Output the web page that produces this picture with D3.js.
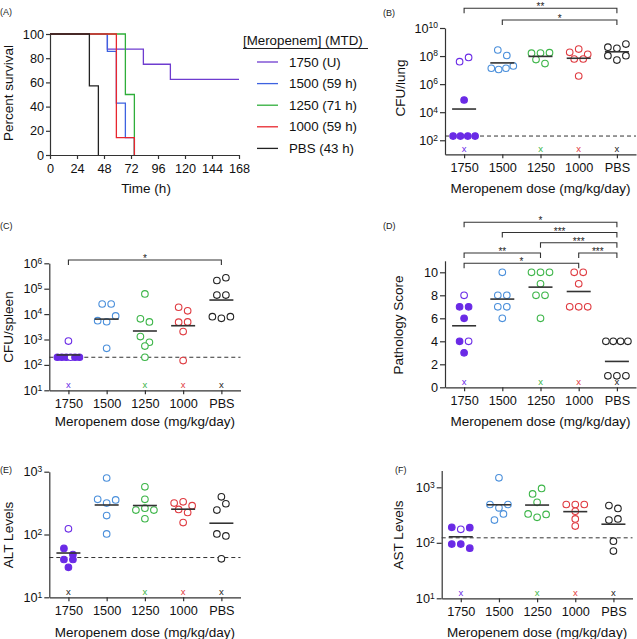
<!DOCTYPE html>
<html>
<head>
<meta charset="utf-8">
<script src="https://cdn.jsdelivr.net/npm/d3@7/dist/d3.min.js"></script>
<style>
body { margin: 0; background: #fff; }
text { font-family: "Liberation Sans", Arial, sans-serif; }
</style>
</head>
<body>
<script>
// Meropenem dose groups, six panels (A-F)
var W = 637, H = 639;
var doses = ["1750", "1500", "1250", "1000", "PBS"];

// (A) survival, step curves
var survTime = [[0, 51, 83, 107, 168], [0, 51, 59, 67, 75], [0, 67, 75], [0, 59, 75], [0, 35, 43]];
var survPct = [[100, 87.5, 75, 62.5, 62.5], [100, 85.7, 42.9, 14.3, 0], [100, 50, 0], [100, 14.3, 0], [100, 57.1, 0]];
var legendTitle = "[Meropenem] (MTD)";
var legendLabels = ["1750 (U)", "1500 (59 h)", "1250 (71 h)", "1000 (59 h)", "PBS (43 h)"];
var timeTicks = [0, 24, 48, 72, 96, 120, 144, 168];
var pctTicks = [0, 20, 40, 60, 80, 100];

// (B) CFU/lung
var lungCFU = [
  [4e7, 8e7, 7.4e4, 200, 200, 200, 200],
  [2.7e8, 1.1e8, 1.35e7, 1.1e7, 1.35e7, 2e7],
  [1.6e8, 1.65e8, 1.75e8, 5.6e7, 2.9e7],
  [1.86e8, 3.16e8, 1.35e8, 6.2e7, 6.2e7, 3.8e6],
  [4.3e8, 3.6e8, 7.2e8, 1.07e8, 5.2e7, 1.07e8]
];
var lungSurv1750 = [0, 0, 1, 1, 1, 1, 1];
var lungDead = [1, 0, 1, 1, 1];
var lungSig = [["1500", "PBS", "*"], ["1750", "PBS", "**"]];

// (C) CFU/spleen
var spleenCFU = [
  [870, 200, 200, 200, 200, 200, 200],
  [2.5e4, 2.5e4, 5.5e3, 5e3, 8.5e3, 450],
  [6.2e4, 6.5e3, 4.9e3, 1.3e3, 780, 550, 200],
  [1.86e4, 1.35e4, 4.8e3, 4.9e3, 2.05e3, 148],
  [2.1e5, 2.7e5, 5.6e4, 5.6e4, 7.9e3, 6.8e3, 7.9e3]
];
var spleenSurv1750 = [0, 1, 1, 1, 0, 1, 1];
var spleenDead = [1, 0, 1, 1, 1];
var spleenSig = [["1750", "PBS", "*"]];

// (D) pathology score
var pathScore = [
  [8, 7, 7, 6, 4, 4, 3],
  [10, 8, 8, 7, 7, 6],
  [10, 10, 10, 9, 8, 8, 6],
  [10, 10, 9, 7, 7, 7],
  [4, 4, 4, 4, 1, 1, 1]
];
var pathMean = [5.35, 7.67, 8.71, 8.33, 2.25];
var pathSurv1750 = [0, 1, 1, 1, 1, 0, 1];
var pathDead = [1, 0, 1, 1, 1];
var pathSig = [["1750", "1000", "*"], ["1750", "1250", "**"], ["1000", "PBS", "***"],
               ["1250", "PBS", "***"], ["1500", "PBS", "***"], ["1750", "PBS", "*"]];

// (E) ALT
var altLevel = [
  [123, 60, 48, 40, 40, 30],
  [794, 363, 316, 355, 200, 102],
  [575, 363, 245, 263, 245, 178],
  [316, 331, 288, 251, 224, 155],
  [398, 245, 309, 102, 95, 41]
];
var altSurv1750 = [0, 1, 1, 1, 1, 1];
var altDead = [1, 0, 1, 1, 1];

// (F) AST
var astLevel = [
  [190, 175, 187, 95, 95, 80],
  [1480, 490, 427, 490, 257, 331],
  [760, 955, 537, 331, 288, 324],
  [490, 490, 490, 370, 269, 200],
  [468, 417, 257, 269, 107, 71]
];
var astSurv1750 = [1, 0, 1, 1, 1, 1];
var astDead = [1, 0, 1, 1, 1];

var doseColor = ["#6a2ae6", "#4a8fdb", "#3cb548", "#df3a40", "#222222"];
var lineColor = ["#6e3ccf", "#3d62e0", "#2fae3a", "#e8262e", "#222222"];
var ink = "#333";

var svg = d3.select("body").append("svg").attr("width", W).attr("height", H);

function styleAxis(g) {
  g.attr("font-family", null).attr("font-size", null);
  g.selectAll("path, line").attr("stroke", ink).attr("stroke-width", 1.2);
  g.selectAll("text").attr("fill", "#111").style("font-size", "12.7px");
}

function label(x, y, s) {
  svg.append("text").attr("x", x).attr("y", y).attr("font-size", 9).attr("fill", "#222").text(s);
}

function yTitle(x, y, s) {
  svg.append("text").attr("transform", "translate(" + x + "," + y + ") rotate(-90)")
    .attr("text-anchor", "middle").attr("dy", "0.35em").attr("font-size", 13.5).attr("fill", "#111").text(s);
}

function xTitle(x, y, s) {
  svg.append("text").attr("x", x).attr("y", y).attr("dy", "0.35em")
    .attr("text-anchor", "middle").attr("font-size", 13.5).attr("fill", "#111").text(s);
}

// ---------- (A) ----------
var ax = d3.scaleLinear().domain([0, 168]).range([50, 239]);
var ay = d3.scaleLinear().domain([0, 100]).range([155, 34]);

svg.append("g").attr("transform", "translate(0,155)")
  .call(d3.axisBottom(ax).tickValues(timeTicks).tickSize(4).tickSizeOuter(0).tickPadding(5))
  .call(styleAxis);
svg.append("g").attr("transform", "translate(50,0)")
  .call(d3.axisLeft(ay).tickValues(pctTicks).tickSize(4).tickSizeOuter(0).tickPadding(2))
  .call(styleAxis);

var step = d3.line().x(function(d) { return ax(d[0]); }).y(function(d) { return ay(d[1]); })
  .curve(d3.curveStepAfter);

survTime.forEach(function(ts, i) {
  var pts = ts.map(function(t, k) { return [t, survPct[i][k]]; });
  svg.append("path").attr("d", step(pts)).attr("fill", "none")
    .attr("stroke", lineColor[i]).attr("stroke-width", 1.3);
});

label(0, 15, "(A)");
yTitle(8, 93, "Percent survival");
xTitle(146, 188, "Time (h)");

// legend
svg.append("text").attr("x", 243).attr("y", 40).attr("dy", "0.35em").attr("font-size", 13.3)
  .attr("fill", "#111").text(legendTitle);
svg.append("line").attr("x1", 243).attr("x2", 368).attr("y1", 48.5).attr("y2", 48.5)
  .attr("stroke", "#222").attr("stroke-width", 1.2);
var leg = svg.selectAll(".leg").data(legendLabels).enter().append("g")
  .attr("transform", function(d, i) { return "translate(0," + (62 + i * 21.6) + ")"; });
leg.append("line").attr("x1", 257).attr("x2", 278)
  .attr("stroke", function(d, i) { return lineColor[i]; }).attr("stroke-width", 1.3);
leg.append("text").attr("x", 289).attr("dy", "0.35em").attr("font-size", 13.3).attr("fill", "#111")
  .text(function(d) { return d; });

// ---------- dot panels ----------
function layoutDots(values, y) {
  var pts = values.map(function(v, i) { return { v: v, i: i, y: y(v) }; });
  var sorted = pts.slice().sort(function(a, b) { return a.y - b.y || a.i - b.i; });
  var rows = [], cur = null;
  sorted.forEach(function(p) {
    if (cur && p.y - cur.y0 < 6.6) cur.pts.push(p);
    else { cur = { y0: p.y, pts: [p] }; rows.push(cur); }
  });
  rows.forEach(function(r) {
    r.pts.sort(function(a, b) { return a.i - b.i; });
    var n = r.pts.length, s = n > 1 ? Math.min(9, 22 / (n - 1)) : 0;
    r.pts.forEach(function(p, k) { p.dx = (k - (n - 1) / 2) * s; });
  });
  return pts;
}

function sigLevels(sig) {
  var used = [];
  return sig.map(function(s) {
    var a = doses.indexOf(s[0]), b = doses.indexOf(s[1]), lv = 0;
    while (used.some(function(u) { return u.lv === lv && a <= u.b && b >= u.a; })) lv++;
    used.push({ a: a, b: b, lv: lv });
    return lv;
  });
}

function dotPanel(p) {
  var g = svg.append("g");
  var x = d3.scalePoint().domain(doses).range([p.x0, p.x1]).padding(0.5);
  var y = p.y;
  var yb = y.range()[0];

  g.append("g").attr("transform", "translate(0," + yb + ")")
    .call(d3.axisBottom(x).tickSize(4).tickSizeOuter(0).tickPadding(5))
    .call(styleAxis);
  var ya = g.append("g").attr("transform", "translate(" + p.x0 + ",0)")
    .call(d3.axisLeft(y).tickValues(p.ticks).tickSize(5).tickSizeOuter(0).tickPadding(2)
      .tickFormat(p.log ? function() { return ""; } : d3.format("d")))
    .call(styleAxis);
  if (p.log) {
    ya.selectAll(".tick text").each(function(d) {
      var t = d3.select(this);
      t.append("tspan").text("10");
      t.append("tspan").attr("dy", "-0.5em").style("font-size", "8.5px").text(Math.round(Math.log10(d)));
    });
  }

  if (p.lod) {
    g.append("line").attr("x1", p.x0).attr("x2", p.x1).attr("y1", y(p.lod)).attr("y2", y(p.lod))
      .attr("stroke", ink).attr("stroke-width", 1).attr("stroke-dasharray", "4,3");
  }

  p.data.forEach(function(vals, gi) {
    var c = doseColor[gi], cx = x(doses[gi]);
    var pts = layoutDots(vals, y);
    g.selectAll(null).data(pts).enter().append("circle")
      .attr("cx", function(d) { return cx + d.dx; })
      .attr("cy", function(d) { return d.y; })
      .attr("r", 3.3)
      .attr("fill", function(d) { return gi === 0 && p.surv[d.i] ? c : "#fff"; })
      .attr("stroke", c).attr("stroke-width", 1.1);
    var m = p.means ? p.means[gi]
      : Math.pow(10, d3.mean(vals, function(v) { return Math.log10(v); }));
    g.append("line").attr("x1", cx - 12).attr("x2", cx + 12).attr("y1", y(m)).attr("y2", y(m))
      .attr("stroke", ink).attr("stroke-width", 1.6);
    if (p.dead[gi]) {
      g.append("text").attr("x", cx).attr("y", yb - 2).attr("text-anchor", "middle")
        .attr("font-size", 9.5).attr("fill", (p.deadInk && p.deadInk[gi]) || c).text("x");
    }
  });

  if (p.sig) {
    var lv = sigLevels(p.sig);
    p.sig.forEach(function(s, k) {
      var yy = p.sigY - lv[k] * p.sigStep, x1 = x(s[0]), x2 = x(s[1]);
      g.append("path").attr("d", "M" + x1 + "," + (yy + 5) + "V" + yy + "H" + x2 + "V" + (yy + 5))
        .attr("fill", "none").attr("stroke", ink).attr("stroke-width", 1.1);
      g.append("text").attr("x", (x1 + x2) / 2).attr("y", yy + 2).attr("text-anchor", "middle")
        .attr("font-size", 10).attr("fill", "#222").text(s[2]);
    });
  }

  label(p.lx, p.ly, p.label);
  yTitle(p.tx, p.ty, p.title);
  xTitle((p.x0 + p.x1) / 2, p.xty, "Meropenem dose (mg/kg/day)");
}

dotPanel({
  label: "(B)", lx: 383, ly: 16, x0: 445, x1: 636,
  y: d3.scaleLog().domain([10, 1e10]).range([154.3, 28]), log: true,
  ticks: [1e2, 1e4, 1e6, 1e8, 1e10],
  data: lungCFU, surv: lungSurv1750, dead: lungDead, lod: 200,
  sig: lungSig, sigY: 20, sigStep: 11.7,
  title: "CFU/lung", tx: 400, ty: 88, xty: 188
});

dotPanel({
  label: "(C)", lx: 0, ly: 229, x0: 49.3, x1: 240.5,
  y: d3.scaleLog().domain([10, 1e6]).range([390.3, 263.3]), log: true,
  ticks: [1e1, 1e2, 1e3, 1e4, 1e5, 1e6],
  data: spleenCFU, surv: spleenSurv1750, dead: spleenDead, lod: 200,
  sig: spleenSig, sigY: 260, sigStep: 10,
  title: "CFU/spleen", tx: 8, ty: 327, xty: 421
});

dotPanel({
  label: "(D)", lx: 383, ly: 229, x0: 445, x1: 636,
  y: d3.scaleLinear().domain([0, 11]).range([387.3, 260.8]), log: false,
  ticks: [0, 2, 4, 6, 8, 10],
  data: pathScore, means: pathMean, surv: pathSurv1750, dead: pathDead,
  sig: pathSig, sigY: 263.3, sigStep: 10.25,
  title: "Pathology Score", tx: 398, ty: 325, xty: 421
});

dotPanel({
  label: "(E)", lx: 0, ly: 472.5, x0: 49.3, x1: 240.5,
  y: d3.scaleLog().domain([10, 1000]).range([597.3, 471.7]), log: true,
  ticks: [1e1, 1e2, 1e3],
  data: altLevel, surv: altSurv1750, dead: altDead, deadInk: ["#222"], lod: 43,
  title: "ALT Levels", tx: 8, ty: 535, xty: 632
});

dotPanel({
  label: "(F)", lx: 395, ly: 472.5, x0: 441.7, x1: 632.5,
  y: d3.scaleLog().domain([10, 2000]).range([598.3, 470.6]), log: true,
  ticks: [1e1, 1e2, 1e3],
  data: astLevel, surv: astSurv1750, dead: astDead, lod: 123,
  title: "AST Levels", tx: 398, ty: 535, xty: 632
});
</script>
</body>
</html>
